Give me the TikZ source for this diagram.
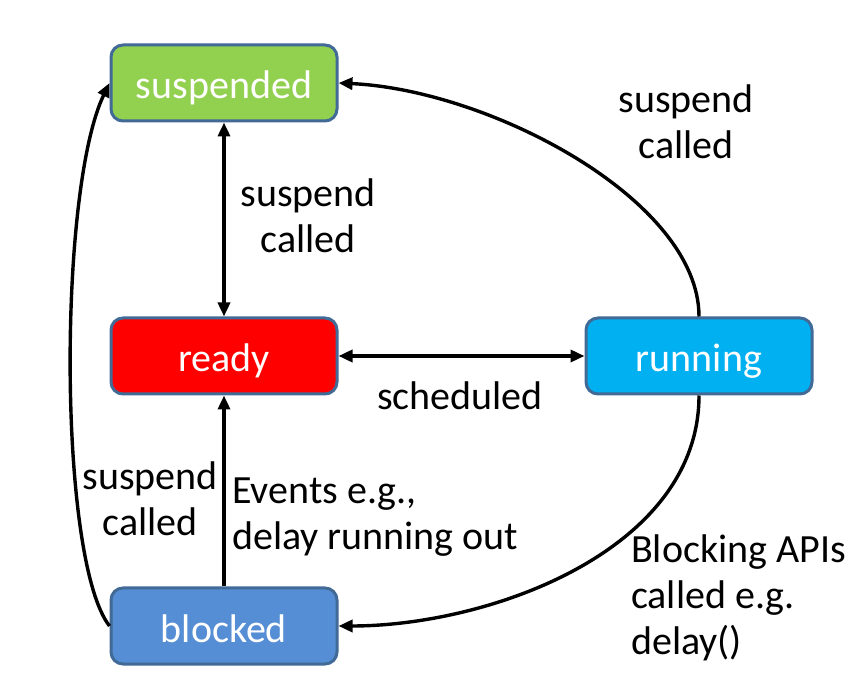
\documentclass[tikz,border=0pt]{standalone}
\usepackage{fontspec}
\setmainfont{Carlito}
\usepackage{tikz}
\usetikzlibrary{arrows.meta,positioning,calc}
\usepackage{xcolor}
\definecolor{stateborder}{RGB}{65,106,150}
\definecolor{suspgreen}{RGB}{146,208,80}
\definecolor{readyred}{RGB}{255,0,0}
\definecolor{runblue}{RGB}{0,176,240}
\definecolor{blockblue}{RGB}{85,142,213}

\begin{document}
\begin{tikzpicture}[x=1pt,y=-1pt,
    state/.style={draw=stateborder,line width=3pt,rounded corners=12pt,
        minimum width=226pt,minimum height=76pt,text=white,
        text height=34pt,text depth=2pt,
        font=\fontsize{40}{46}\selectfont},
    lbl/.style={inner sep=0pt,font=\fontsize{40}{46}\selectfont},
    trans/.style={line width=3.4pt,-{Triangle[length=14pt,width=12pt]}}]
                \useasboundingbox (0,0) rectangle (855,700);
                % states
                \node[state,fill=suspgreen] (suspended) at (224,83) {suspended};
                \node[state,fill=readyred] (ready) at (224,356) {ready};
                \node[state,fill=runblue] (running) at (699,356) {running};
                \node[state,fill=blockblue] (blocked) at (224,626) {blocked};
                % transitions
                \draw[trans,{Triangle[length=14pt,width=12pt]}-{Triangle[length=14pt,width=12pt]}] (suspended) -- (ready);
                \draw[trans,{Triangle[length=14pt,width=12pt]}-{Triangle[length=14pt,width=12pt]}] (ready) -- (running);
                \draw[trans] (blocked) -- (ready);
                \draw[trans] (running.north) .. controls (699,200) and (490,90) .. (suspended.east);
                \draw[trans] (running.south) .. controls (699,550) and (490,626) .. (blocked.east);
                \draw[trans] (blocked.west) .. controls (58,560) and (58,190) .. (suspended.west);
                % labels
                \node[lbl,align=center] (lsr) at (308,216) {suspend\\called};
                \node[lbl,align=center] (lsrun) at (686,122) {suspend\\called};
                \node[lbl] (lsched) at (460,396) {scheduled};
                \node[lbl,align=center] (lsblk) at (150,499) {suspend\\called};
                \node[lbl,align=left,anchor=west] (levt) at (232,517) {Events e.g.,\\delay running out};
                \node[lbl,align=left,anchor=west] (lblk) at (631,598) {Blocking APIs\\called e.g.\\delay()};
\end{tikzpicture}
\end{document}
